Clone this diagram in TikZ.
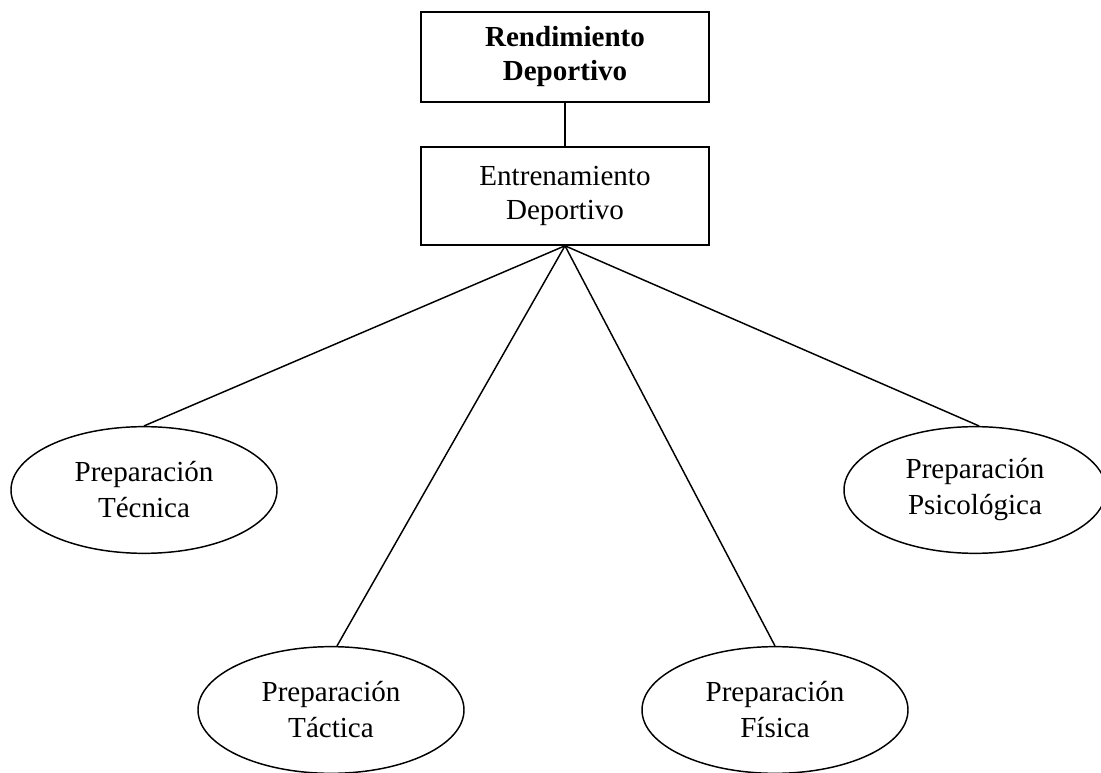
\documentclass[tikz,border=0pt]{standalone}
\usepackage{fontspec}
\setmainfont{Liberation Serif}
\usetikzlibrary{shapes.geometric}

\tikzset{
  box/.style={draw, line width=1.2pt, rectangle, minimum width=216pt,
    inner sep=0pt, align=center, font=\fontsize{21.8}{25.5}\selectfont},
  prep/.style={draw, line width=1.1pt, ellipse, minimum width=199.5pt,
    minimum height=95pt, inner sep=0pt, align=center,
    font=\fontsize{21.8}{27}\selectfont},
  link/.style={line width=1.1pt}
}

\begin{document}
\begin{tikzpicture}[x=0.75pt, y=-0.75pt]
  \useasboundingbox (0,0) rectangle (1101,773);
  \clip (0,0) rectangle (1101,773);

  % top level boxes
  \node[box, minimum height=67.5pt] (rend) at (565,57)
    {\textbf{Rendimiento}\\\textbf{Deportivo}};
  \node[box, minimum height=73.5pt] (entr) at (565,196)
    {Entrenamiento\\Deportivo};

  % the four kinds of preparation
  \node[prep] (tec) at (144,490) {Preparación\\Técnica};
  \node[prep, minimum width=196.5pt] (psi) at (975,490) {Preparación\\Psicológica};
  \node[prep] (tac) at (331,710) {Preparación\\Táctica};
  \node[prep] (fis) at (775,710) {Preparación\\Física};

  % connectors
  \draw[link] (rend.south) -- (entr.north);
  \draw[link] (entr.south) -- (tec.north);
  \draw[link] (entr.south) -- ([xshift=4.5pt]tac.north);
  \draw[link] (entr.south) -- (fis.north);
  \draw[link] (entr.south) -- ([xshift=3pt]psi.north);
\end{tikzpicture}
\end{document}
